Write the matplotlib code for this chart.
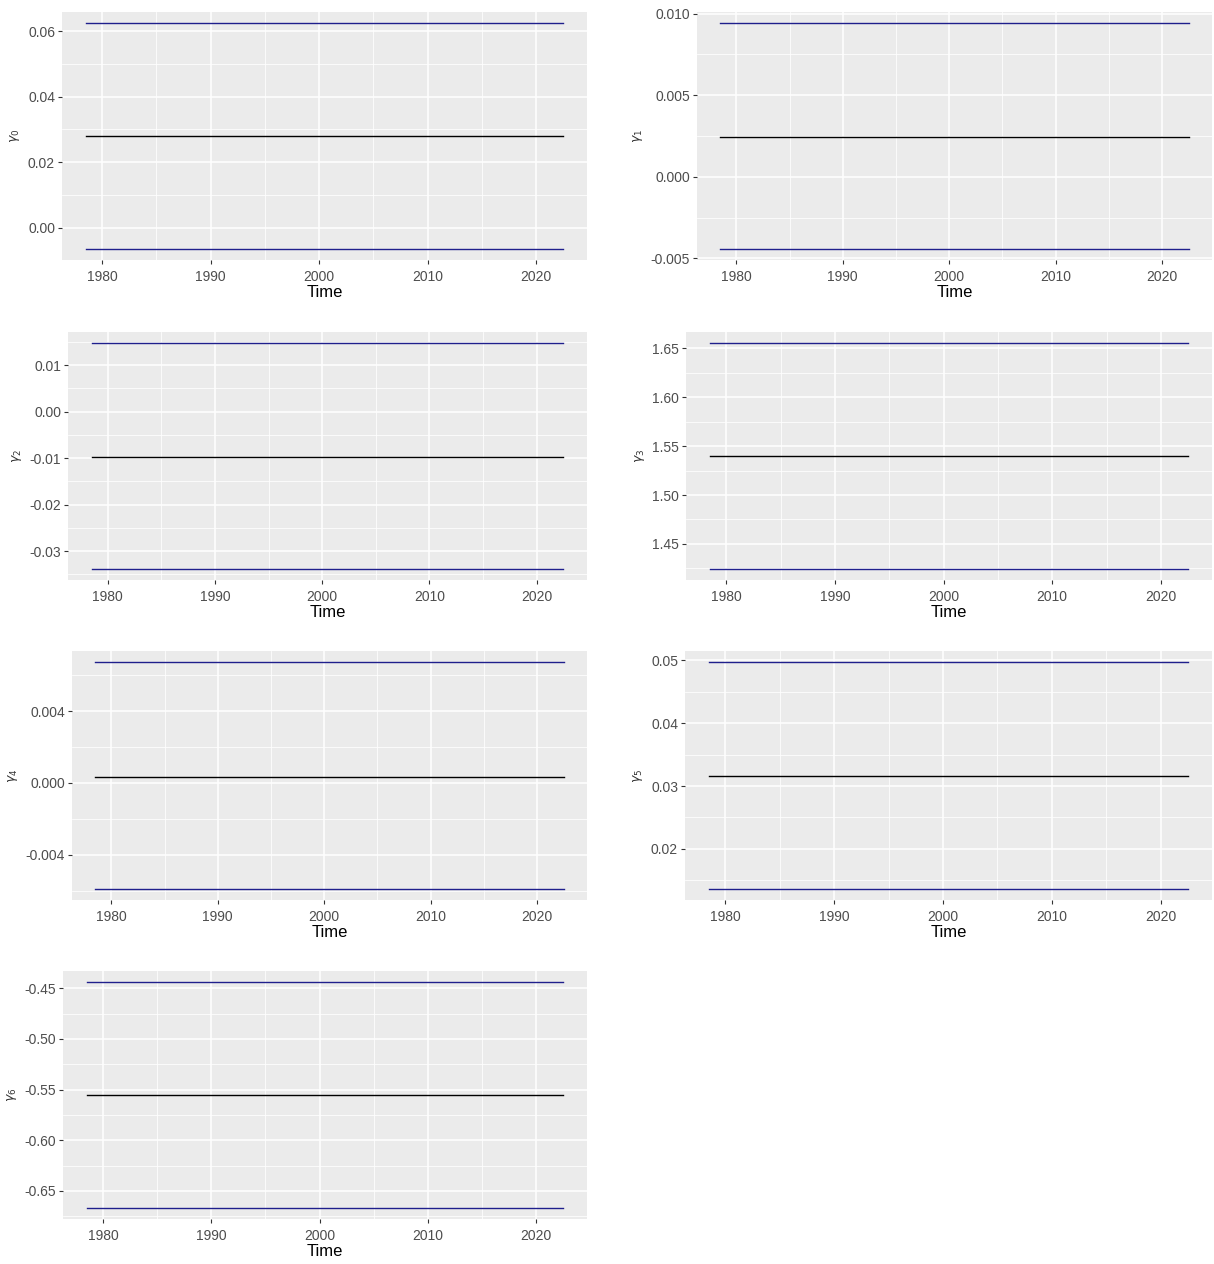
import matplotlib
matplotlib.use('Agg')
import matplotlib.pyplot as plt
from matplotlib.ticker import FixedLocator

plt.rcParams['font.family'] = ['Liberation Sans', 'DejaVu Sans']

# time span of the estimated series
time = [1978.5, 2022.5]

# coefficient estimate with lower / upper bands, one entry per gamma
names = [r'$\gamma_0$', r'$\gamma_1$', r'$\gamma_2$', r'$\gamma_3$',
         r'$\gamma_4$', r'$\gamma_5$', r'$\gamma_6$']
est = [0.0279, 0.00244, -0.0098, 1.540, 0.00035, 0.0316, -0.5550]
lower = [-0.0064, -0.00445, -0.0338, 1.4247, -0.00589, 0.01365, -0.6666]
upper = [0.0624, 0.00945, 0.01468, 1.6550, 0.00672, 0.0497, -0.4441]

# y tick positions (major) per panel
yticks = [
    [0.00, 0.02, 0.04, 0.06],
    [-0.005, 0.000, 0.005, 0.010],
    [-0.03, -0.02, -0.01, 0.00, 0.01],
    [1.45, 1.50, 1.55, 1.60, 1.65],
    [-0.004, 0.000, 0.004],
    [0.02, 0.03, 0.04, 0.05],
    [-0.65, -0.60, -0.55, -0.50, -0.45],
]
yfmt = ['%.2f', '%.3f', '%.2f', '%.2f', '%.3f', '%.2f', '%.2f']
# ylim override for panels where the tick sits on the range edge
ylims = {1: (-0.0051, 0.0101)}

xticks = [1980, 1990, 2000, 2010, 2020]

# panel rectangles in pixels: left, top, right, bottom
W, H = 1214, 1264
boxes = [
    (62, 12, 587, 260),
    (697, 12, 1212, 260),
    (68, 332, 587, 580),
    (686, 332, 1212, 580),
    (72, 651, 587, 900),
    (685, 651, 1212, 900),
    (63, 971, 587, 1219),
]

fig = plt.figure(figsize=(W / 100, H / 100), dpi=100)
fig.patch.set_facecolor('white')

for i in range(7):
    l, t, r, b = boxes[i]
    ax = fig.add_axes([l / W, 1 - b / H, (r - l) / W, (b - t) / H])
    ax.set_facecolor('#EBEBEB')
    for s in ax.spines.values():
        s.set_visible(False)

    ax.plot(time, [upper[i]] * 2, color='#1f1f8c', lw=1.0, zorder=3)
    ax.plot(time, [lower[i]] * 2, color='#1f1f8c', lw=1.0, zorder=3)
    ax.plot(time, [est[i]] * 2, color='black', lw=1.0, zorder=3)

    # ggplot style 5% expansion
    span = time[1] - time[0]
    ax.set_xlim(time[0] - 0.05 * span, time[1] + 0.05 * span)
    if i in ylims:
        ax.set_ylim(*ylims[i])
    else:
        lo, hi = lower[i], upper[i]
        ax.set_ylim(lo - 0.05 * (hi - lo), hi + 0.05 * (hi - lo))

    ax.xaxis.set_major_locator(FixedLocator(xticks))
    ax.xaxis.set_minor_locator(FixedLocator([x + 5 for x in [1970] + xticks]))
    yt = yticks[i]
    step = yt[1] - yt[0]
    ax.yaxis.set_major_locator(FixedLocator(yt))
    ax.yaxis.set_minor_locator(FixedLocator([yt[0] - step / 2] + [y + step / 2 for y in yt]))
    ax.set_yticklabels([yfmt[i] % v for v in yt])
    ax.set_xticklabels([str(x) for x in xticks])

    ax.grid(which='major', color='white', lw=1.1, zorder=0)
    ax.grid(which='minor', color='white', lw=0.55, zorder=0)
    ax.set_axisbelow(True)
    ax.tick_params(which='major', length=3, width=0.8, color='#333333',
                   labelsize=10, labelcolor='#4D4D4D')
    ax.tick_params(axis='x', which='major', pad=4)
    ax.tick_params(axis='y', which='major', pad=2)
    ax.tick_params(which='minor', length=0)

    ax.set_xlabel('Time', fontsize=12, labelpad=1)
    ax.set_ylabel(names[i], fontsize=9, labelpad=4, color='#333333')

fig.savefig('out.png', dpi=100)
